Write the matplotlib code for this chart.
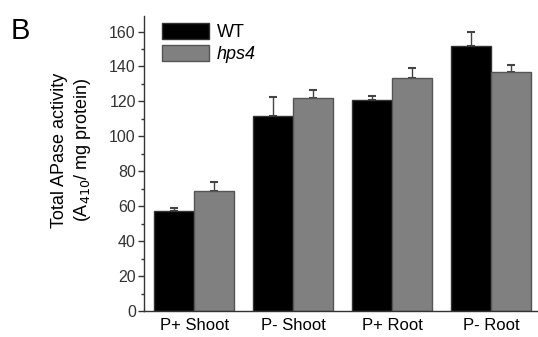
"""Total APase activity in WT vs hps4 (panel B)."""

import matplotlib
matplotlib.use("Agg")
import matplotlib.pyplot as plt
import numpy as np
from matplotlib.ticker import MultipleLocator

# --- data ---
categories = ["P+ Shoot", "P- Shoot", "P+ Root", "P- Root"]
wt_mean = [57.3, 111.8, 120.6, 152.0]
wt_err = [1.8, 10.7, 2.3, 7.8]
hps4_mean = [68.8, 122.0, 133.6, 136.8]
hps4_err = [5.2, 4.7, 5.4, 4.0]

plt.rcParams["font.family"] = ["Liberation Sans", "DejaVu Sans"]

fig = plt.figure(figsize=(5.38, 3.37), dpi=100)
ax = fig.add_axes([0.268, 0.077, 0.732, 0.876])

x = np.arange(len(categories))
width = 0.404

ax.bar(x - width / 2, wt_mean, width, color="black", edgecolor="#333333",
       linewidth=1.0, label="WT", zorder=2)
ax.bar(x + width / 2, hps4_mean, width, color="#808080", edgecolor="#555555",
       linewidth=1.0, label="hps4", zorder=2)

# one-sided (upper) error bars with caps
ax.errorbar(x - width / 2, wt_mean, yerr=[np.zeros(len(wt_err)), wt_err],
            fmt="none", ecolor="#444444", elinewidth=1.0, capsize=3,
            capthick=1.5, zorder=1)
ax.errorbar(x + width / 2, hps4_mean, yerr=[np.zeros(len(hps4_err)), hps4_err],
            fmt="none", ecolor="#444444", elinewidth=1.0, capsize=3,
            capthick=1.5, zorder=1)

ax.set_xlim(-0.505, 3.475)
ax.set_ylim(0, 169)
ax.yaxis.set_major_locator(MultipleLocator(20))
ax.yaxis.set_minor_locator(MultipleLocator(10))

ax.set_xticks(x)
ax.set_xticklabels(categories, fontsize=12)
ax.tick_params(axis="x", length=0, pad=5)
ax.tick_params(axis="y", which="major", length=4, width=1, labelsize=11.5,
               color="#333333", labelcolor="#333333", pad=2)
ax.tick_params(axis="y", which="minor", length=2.5, width=1, color="#333333")

for side in ("top", "right"):
    ax.spines[side].set_visible(False)
for side in ("left", "bottom"):
    ax.spines[side].set_linewidth(1.0)
    ax.spines[side].set_color("#333333")

# y label placed by hand: it sits a little above the axis centre
fig.text(0.134, 0.555, "Total APase activity\n(A$_{410}$/ mg protein)",
         fontsize=13, rotation=90, ha="center", va="center",
         multialignment="center", linespacing=1.25)

leg = ax.legend(loc="upper left", bbox_to_anchor=(0.005, 1.03), frameon=False,
                fontsize=13, handlelength=2.6, handleheight=1.0,
                handletextpad=0.4, labelspacing=0.2)
leg.get_texts()[1].set_fontstyle("italic")

fig.text(0.02, 0.885, "B", fontsize=21)

fig.savefig("out.png", dpi=100)
